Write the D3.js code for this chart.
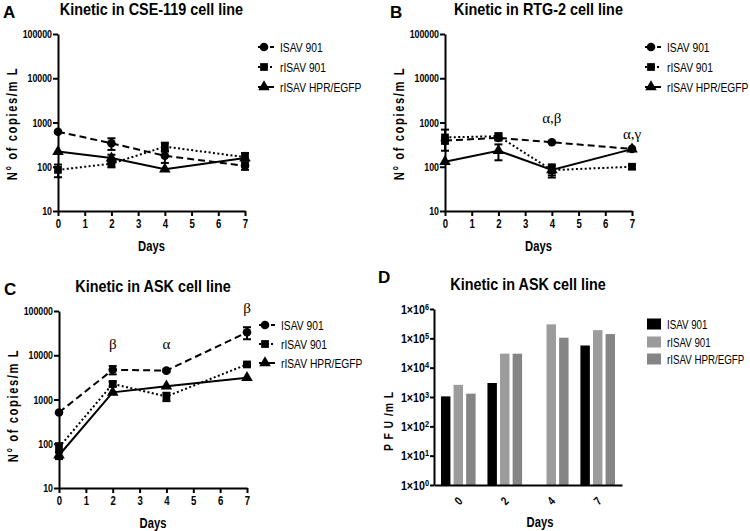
<!DOCTYPE html>
<html><head><meta charset="utf-8">
<script src="https://cdn.jsdelivr.net/npm/d3@7"></script>
<style>
body{margin:0;background:#fff;}
svg{display:block;}
text{font-family:"Liberation Sans Narrow","Arial Narrow","Liberation Sans",Arial,sans-serif;fill:#000;}
</style></head><body>
<svg id="chart" width="750" height="531"></svg>
<script>
// ---------- DATA ----------
const days = [0, 2, 4, 7];
const dayTicks = [0, 1, 2, 3, 4, 5, 6, 7];
const copyTicks = [10, 100, 1000, 10000, 100000];
const seriesNames = ["ISAV 901", "rISAV 901", "rISAV HPR/EGFP"];

// Panel A: CSE-119
const isavA = [620, 340, 177, 105];
const isavAErr = [30, 100, 55, 20];
const risavA = [85, 117, 285, 165];
const risavAErr = [27, 20, 65, 40];
const hprA = [220, 157, 88, 157];
const hprAErr = [0, 30, 0, 0];

// Panel B: RTG-2
const isavB = [390, 450, 357, 253];
const isavBErr = [60, 60, 15, 10];
const risavB = [460, 490, 84, 100];
const risavBErr = [230, 80, 20, 10];
const hprB = [130, 230, 85, 250];
const hprBErr = [0, 90, 28, 0];
const annotBLabels = ["α,β", "α,γ"];
const annotBDays = [4, 7];
const annotBVals = [1250, 570];

// Panel C: ASK (copies)
const isavC = [510, 4700, 4500, 33000];
const isavCErr = [0, 1000, 300, 10000];
const risavC = [83, 2250, 1170, 6200];
const risavCErr = [20, 300, 250, 500];
const hprC = [55, 1450, 2000, 3100];
const hprCErr = [10, 0, 0, 0];
const annotCLabels = ["β", "α", "β"];
const annotCDays = [2, 4, 7];
const annotCVals = [18600, 18600, 118000];

// Panel D: ASK (PFU)
const pfuDays = ["0", "2", "4", "7"];
const pfuTicks = [1, 10, 100, 1000, 10000, 100000, 1000000];
const pfuIsav = [1050, 3000, null, 57000];
const pfuRisav = [2600, 30000, 300000, 190000];
const pfuHpr = [1300, 30000, 105000, 140000];

// ---------- DRAWING ----------
const svg = d3.select("#chart");
const lineDash = ["7,4", "2,2.4", null];
const legDash = ["4,2", "2,2", null];
const symbols = [d3.symbolCircle, d3.symbolSquare, d3.symbolTriangle];
const symSizes = [58, 60, 58];
const barColors = ["#000000", "#9c9c9c", "#858585"];

function styleAxis(g) {
  g.select(".domain").attr("stroke", "#000").attr("stroke-width", 2);
  g.selectAll(".tick line").attr("stroke", "#000").attr("stroke-width", 2);
  g.selectAll(".tick text").attr("font-weight", "bold").attr("fill", "#000")
    .style("font-family", '"Liberation Sans Narrow","Arial Narrow","Liberation Sans",Arial,sans-serif');
}

function headings(letter, title, lx, ly, tx, ty) {
  svg.append("text").attr("x", lx).attr("y", ly).text(letter).attr("data-sx", 1)
    .style("font-family", '"Liberation Sans",Arial,sans-serif')
    .attr("font-weight", "bold").attr("font-size", 17);
  svg.append("text").attr("x", tx).attr("y", ty).text(title).attr("data-sx", 0.9)
    .attr("text-anchor", "middle").attr("font-weight", "bold").attr("font-size", 16);
}

function linePanel(cfg) {
  const x = d3.scaleLinear().domain([0, 7]).range([cfg.x0, cfg.x1]);
  const y = d3.scaleLog().domain([10, 100000]).range([cfg.yb, cfg.yt]);
  const g = svg.append("g");

  const ya = g.append("g").attr("transform", `translate(${cfg.x0},0)`)
    .call(d3.axisLeft(y).tickValues(copyTicks).tickFormat(d3.format("d")).tickSize(5).tickSizeOuter(0).tickPadding(1));
  ya.selectAll(".tick text").attr("font-size", 11);
  styleAxis(ya);
  const xa = g.append("g").attr("transform", `translate(0,${cfg.yb})`)
    .call(d3.axisBottom(x).tickValues(dayTicks).tickFormat(d3.format("d")).tickSize(5).tickSizeOuter(0).tickPadding(3));
  xa.selectAll(".tick text").attr("font-size", 12);
  styleAxis(xa);

  headings(cfg.letter, cfg.title, cfg.x0 - 55, cfg.yt - 16, (cfg.x0 + cfg.x1) / 2, cfg.yt - 19);

  g.append("text").attr("x", (cfg.x0 + cfg.x1) / 2).attr("y", cfg.yb + 40)
    .attr("text-anchor", "middle").attr("font-weight", "bold").attr("font-size", 14).text("Days");
  g.append("text").attr("transform", `translate(${cfg.x0 - 41},${(cfg.yt + cfg.yb) / 2 + cfg.ylOff}) rotate(-90)`)
    .attr("text-anchor", "middle").attr("font-weight", "bold").attr("font-size", 14)
    .attr("letter-spacing", 2).text("N° of copies/m L");

  const line = d3.line().x((d, i) => x(days[i])).y(d => y(d));
  cfg.series.forEach((vals, si) => {
    g.append("path").datum(vals).attr("d", line).attr("fill", "none")
      .attr("stroke", "#000").attr("stroke-width", 2)
      .attr("stroke-dasharray", lineDash[si]);
  });
  cfg.series.forEach((vals, si) => {
    const errs = cfg.errs[si];
    vals.forEach((v, i) => {
      const e = errs[i];
      if (e > 0) {
        const lo = y(Math.max(v - e, 10)), hi = y(v + e), cx = x(days[i]);
        g.append("line").attr("x1", cx).attr("x2", cx).attr("y1", lo).attr("y2", hi)
          .attr("stroke", "#000").attr("stroke-width", 2);
        [lo, hi].forEach(yy => g.append("line").attr("x1", cx - 4).attr("x2", cx + 4)
          .attr("y1", yy).attr("y2", yy).attr("stroke", "#000").attr("stroke-width", 2));
      }
    });
    g.selectAll(null).data(vals).enter().append("path")
      .attr("d", d3.symbol().type(symbols[si]).size(symSizes[si]))
      .attr("transform", (d, i) => `translate(${x(days[i])},${y(d)})`)
      .attr("fill", "#000");
  });

  // legend
  const lx = cfg.x0 + 200;
  cfg.legY.forEach((ly, si) => {
    g.append("line").attr("x1", lx).attr("x2", lx + 16).attr("y1", ly).attr("y2", ly)
      .attr("stroke", "#000").attr("stroke-width", 2).attr("stroke-dasharray", legDash[si]);
    g.append("path").attr("d", d3.symbol().type(symbols[si]).size(symSizes[si])())
      .attr("transform", `translate(${lx + 6},${ly})`).attr("fill", "#000");
    g.append("text").attr("x", lx + 22).attr("y", ly).attr("dy", "0.35em")
      .attr("font-size", 13).attr("data-sx", 0.79).text(seriesNames[si]);
  });

  if (cfg.annLabels) {
    cfg.annLabels.forEach((t, i) => {
      g.append("text").attr("x", x(cfg.annDays[i])).attr("y", y(cfg.annVals[i])).attr("dy", "0.35em")
        .attr("text-anchor", "middle").attr("font-size", 15).attr("data-sx", 1)
        .style("font-family", '"Liberation Serif","DejaVu Serif",serif').style("fill", "#000").text(t);
    });
  }
}

linePanel({letter: "A", title: "Kinetic in CSE-119 cell line", x0: 58, x1: 245, yt: 34, yb: 211, ylOff: 1,
  series: [isavA, risavA, hprA], errs: [isavAErr, risavAErr, hprAErr], legY: [47, 67, 87]});
linePanel({letter: "B", title: "Kinetic in RTG-2 cell line", x0: 445, x1: 632, yt: 34, yb: 211, ylOff: 1,
  series: [isavB, risavB, hprB], errs: [isavBErr, risavBErr, hprBErr], legY: [47, 67, 87],
  annLabels: annotBLabels, annDays: annotBDays, annVals: annotBVals});
linePanel({letter: "C", title: "Kinetic in ASK cell line", x0: 59, x1: 247, yt: 311, yb: 488, ylOff: 6,
  series: [isavC, risavC, hprC], errs: [isavCErr, risavCErr, hprCErr], legY: [325, 344, 363],
  annLabels: annotCLabels, annDays: annotCDays, annVals: annotCVals});

// Panel D bars
(function () {
  const x0 = 434, x1 = 622, yt = 309, yb = 485;
  const xb = d3.scaleBand().domain(pfuDays).range([x0, x1]).paddingInner(0.255).paddingOuter(0.15);
  const xs = d3.scaleBand().domain(seriesNames).range([0, xb.bandwidth()]).paddingInner(0.25);
  const y = d3.scaleLog().domain([1, 1000000]).range([yb, yt]);
  const g = svg.append("g");
  const all = [pfuIsav, pfuRisav, pfuHpr];
  all.forEach((vals, si) => {
    vals.forEach((v, i) => {
      if (v == null) return;
      g.append("rect").attr("x", xb(pfuDays[i]) + xs(seriesNames[si])).attr("width", xs.bandwidth())
        .attr("y", y(v)).attr("height", yb - y(v)).attr("fill", barColors[si]);
    });
  });
  const ya = g.append("g").attr("transform", `translate(${x0},0)`)
    .call(d3.axisLeft(y).tickValues(pfuTicks).tickFormat("").tickSize(4).tickSizeOuter(0));
  styleAxis(ya);
  ya.selectAll(".tick").each(function (d) {
    const t = d3.select(this).append("text").attr("x", -5).attr("dy", "0.32em")
      .attr("text-anchor", "end").attr("font-size", 13).attr("font-weight", "bold").attr("data-sx", 0.82);
    t.append("tspan").text("1×10");
    t.append("tspan").attr("dy", "-0.45em").attr("font-size", 9).text(Math.round(Math.log10(d)));
  });
  const xa = g.append("g").attr("transform", `translate(0,${yb})`)
    .call(d3.axisBottom(xb).tickSize(0).tickSizeOuter(0));
  styleAxis(xa);
  xa.selectAll(".tick text").attr("font-size", 12).attr("text-anchor", "middle")
    .attr("y", 0).attr("dy", "0.35em").attr("transform", "translate(0,16) rotate(-45)");

  headings("D", "Kinetic in ASK cell line", 378, 283, 528, 290);
  g.append("text").attr("x", 540).attr("y", 527).attr("text-anchor", "middle")
    .attr("font-weight", "bold").attr("font-size", 14).text("Days");
  g.append("text").attr("transform", `translate(${x0 - 41},${421}) rotate(-90)`)
    .attr("text-anchor", "middle").attr("font-weight", "bold").attr("font-size", 13)
    .attr("letter-spacing", 1.2).text("P F U /m L");

  const legY = [324, 342, 359];
  legY.forEach((ly, si) => {
    g.append("rect").attr("x", 647).attr("y", ly - 5.5).attr("width", 14).attr("height", 11).attr("fill", barColors[si]);
    g.append("text").attr("x", 667).attr("y", ly).attr("dy", "0.35em").attr("font-size", 13)
      .attr("data-sx", 0.75).text(seriesNames[si]);
  });
})();

// condense text horizontally (narrow font look)
svg.selectAll("text").each(function () {
  const el = d3.select(this);
  const f = el.attr("data-sx") != null ? +el.attr("data-sx") : 0.8;
  if (f === 1) return;
  const x = +el.attr("x") || 0;
  const t = el.attr("transform") || "";
  el.attr("transform", `${t} translate(${x},0) scale(${f},1) translate(${-x},0)`);
});
</script>
</body></html>
